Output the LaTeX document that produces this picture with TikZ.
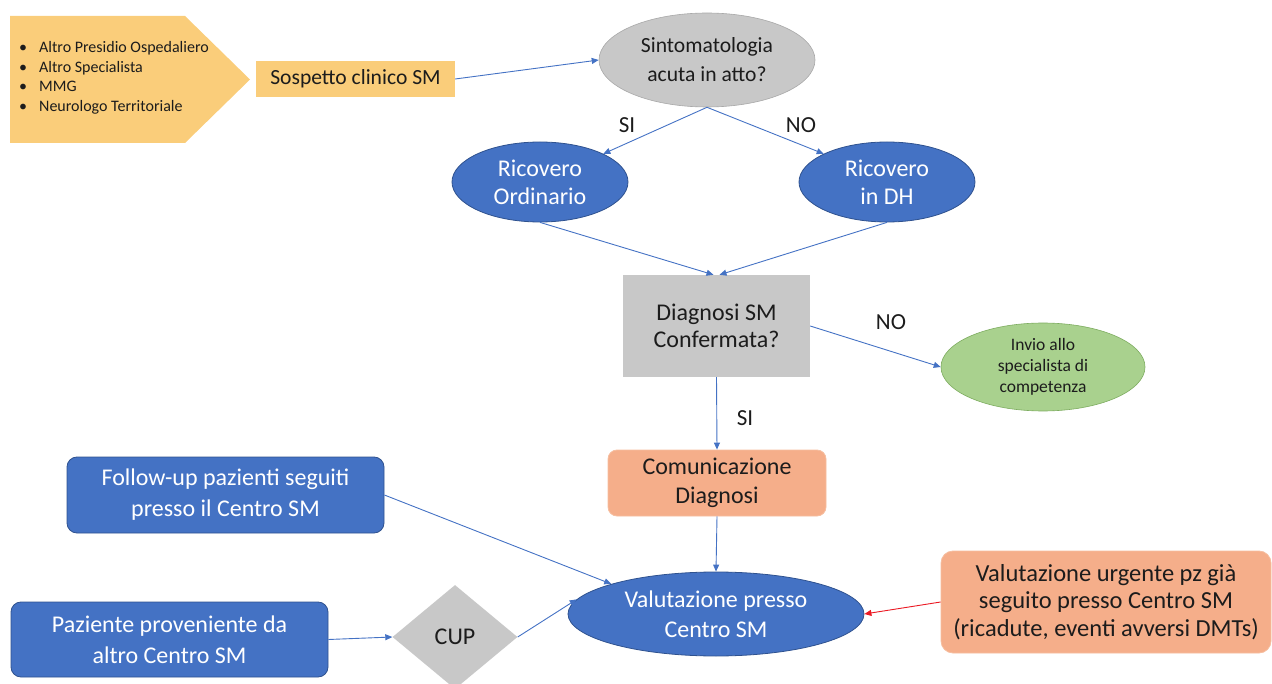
\documentclass[tikz,border=0pt]{standalone}
\usepackage{fontspec}
\setmainfont{Carlito}
\usetikzlibrary{shapes.geometric,arrows.meta}

\definecolor{pgold}{RGB}{250,205,122}
\definecolor{pblue}{RGB}{68,114,196}
\definecolor{pblueline}{RGB}{47,82,143}
\definecolor{pgray}{RGB}{200,200,200}
\definecolor{pgrayline}{RGB}{168,168,168}
\definecolor{pgreen}{RGB}{169,209,142}
\definecolor{pgreenline}{RGB}{125,172,95}
\definecolor{psalmon}{RGB}{245,174,138}
\definecolor{psalmonline}{RGB}{246,190,160}
\definecolor{ptext}{RGB}{28,28,28}
\definecolor{pred}{RGB}{235,25,35}

\tikzset{
  big/.style={font=\fontsize{24}{29}\selectfont},
  blueell/.style={ellipse, fill=pblue, draw=pblueline, line width=0.8pt,
    text=white, inner sep=0pt, align=center, big},
  grayell/.style={ellipse, fill=pgray, draw=pgrayline, line width=0.6pt,
    text=ptext, inner sep=0pt, align=center, font=\fontsize{21.6}{29}\selectfont},
  greenell/.style={ellipse, fill=pgreen, draw=pgreenline, line width=0.6pt,
    text=ptext, inner sep=0pt, align=center, font=\fontsize{17.5}{21}\selectfont},
  bluebox/.style={rectangle, rounded corners=10pt, fill=pblue, draw=pblueline,
    line width=0.8pt, text=white, inner sep=0pt, align=center, big},
  salbox/.style={rectangle, rounded corners=9pt, fill=psalmon, draw=psalmonline,
    line width=0.8pt, text=ptext, inner sep=0pt, align=center, big},
  graybox/.style={rectangle, fill=pgray, text=ptext, inner sep=0pt,
    align=center, big},
  goldbox/.style={rectangle, fill=pgold, text=ptext, inner sep=0pt,
    font=\fontsize{21.6}{26}\selectfont},
  conn/.style={draw=pblue, line width=0.9pt, -{Triangle[length=7pt,width=6pt]}},
  redconn/.style={draw=pred, line width=0.9pt, -{Triangle[length=7pt,width=6pt]}},
  lbl/.style={text=ptext, inner sep=0pt, font=\fontsize{23}{27}\selectfont},
}

\begin{document}
\begin{tikzpicture}[x=1pt, y=-1pt]
  \useasboundingbox (0,0) rectangle (1272,684);

  % sources of the clinical suspicion
  \fill[pgold] (10,16) -- (185,16) -- (250,79.5) -- (185,143) -- (10,143) -- cycle;
  \node[anchor=west, inner sep=0pt, text=ptext, font=\fontsize{16}{19.5}\selectfont] (src) at (19,78)
    {\begin{tabular}{@{}l@{\hspace{12pt}}l@{}}
      \textbullet & Altro Presidio Ospedaliero\\
      \textbullet & Altro Specialista\\
      \textbullet & MMG\\
      \textbullet & Neurologo Territoriale
    \end{tabular}};

  \node[goldbox, minimum width=199, minimum height=36] (sosp) at (355.5,79) {Sospetto clinico SM};
  \node[grayell, minimum width=216, minimum height=94] (sint) at (707,60) {Sintomatologia\\acuta in atto?};

  \node[blueell, minimum width=176, minimum height=80, font=\fontsize{24}{28}\selectfont] (ord) at (540,182) {Ricovero\\Ordinario};
  \node[blueell, minimum width=176, minimum height=80, font=\fontsize{24}{28}\selectfont] (dh) at (887,182) {Ricovero\\in DH};

  \node[graybox, minimum width=187, minimum height=102, font=\fontsize{24}{27.5}\selectfont] (diag) at (716.5,326) {Diagnosi SM\\Confermata?};
  \node[greenell, minimum width=204, minimum height=88] (inv) at (1043,367) {Invio allo\\specialista di\\competenza};

  \node[salbox, minimum width=218, minimum height=66] (comm) at (717,483) {Comunicazione\\Diagnosi};
  \node[blueell, minimum width=296, minimum height=84, font=\fontsize{24}{30}\selectfont] (val) at (716,614) {Valutazione presso\\Centro SM};

  \node[bluebox, minimum width=317, minimum height=76, font=\fontsize{24}{31}\selectfont] (fu) at (225.5,495) {Follow-up pazienti seguiti\\presso il Centro SM};
  \node[bluebox, minimum width=317, minimum height=75, font=\fontsize{24}{31}\selectfont] (paz) at (169.5,639.5) {Paziente proveniente da\\altro Centro SM};
  \node[diamond, fill=pgray, text=ptext, minimum width=125, minimum height=104, inner sep=0pt, big] (cup) at (455,637) {CUP};

  \node[salbox, rounded corners=12pt, minimum width=330, minimum height=102, font=\fontsize{24.5}{27.5}\selectfont] (urg) at (1106,602)
    {Valutazione urgente pz già\\seguito presso Centro SM\\(ricadute, eventi avversi DMTs)};

  % branch labels
  \node[lbl] (si1) at (627,125) {SI};
  \node[lbl] (no1) at (801,125) {NO};
  \node[lbl] (no2) at (891,322) {NO};
  \node[lbl] (si2) at (745,418) {SI};

  % connectors
  \draw[conn] (sosp.east) -- (sint.west);
  \draw[conn] (sint.south) -- (ord.24);
  \draw[conn] (sint.south) -- (dh.156);
  \draw[conn] (ord.south) -- ([xshift=-3pt]diag.north);
  \draw[conn] (dh.south) -- ([xshift=3pt]diag.north);
  \draw[conn] (diag.east) -- (inv.west);
  \draw[conn] (diag.south) -- (comm.north);
  \draw[conn] (comm.south) -- (val.north);
  \draw[conn] (fu.east) -- (val.164);
  \draw[conn] (paz.east) -- (cup.west);
  \draw[conn] (cup.east) -- (val.174);
  \draw[redconn] (urg.west) -- (val.east);
\end{tikzpicture}
\end{document}
